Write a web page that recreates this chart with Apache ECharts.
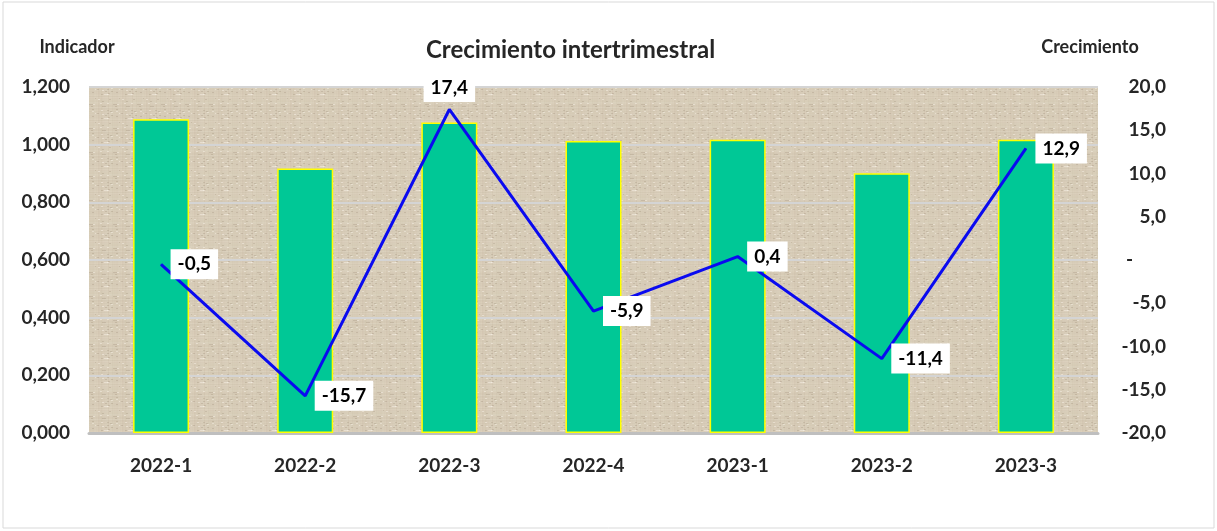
<!DOCTYPE html>
<html>
<head>
<meta charset="utf-8">
<script src="https://cdn.jsdelivr.net/npm/echarts@6/dist/echarts.min.js"></script>
<style>
  html, body { margin: 0; padding: 0; background: #fff; }
  #main { width: 1217px; height: 531px; }
</style>
</head>
<body>
<div id="main"></div>
<script>
// datos
var periodos = ['2022-1', '2022-2', '2022-3', '2022-4', '2023-1', '2023-2', '2023-3'];
var indicador = [1.088, 0.917, 1.077, 1.013, 1.017, 0.901, 1.017];
var crecimiento = [-0.5, -15.7, 17.4, -5.9, 0.4, -11.4, 12.9];

// textura tipo lino para el fondo del area de trazado (hash fijo, solo estilo)
function textura() {
	var n = 24;
	var c = document.createElement('canvas');
	c.width = n; c.height = n;
	var ctx = c.getContext('2d');
	ctx.fillStyle = '#e0d6c3';
	ctx.fillRect(0, 0, n, n);
	function h(a) { var s = Math.sin(a * 12.9898) * 43758.5453; return s - Math.floor(s); }
	for (var i = 0; i < n; i++) {
		ctx.fillStyle = 'rgba(150,130,100,' + (0.02 + 0.09 * h(i + 1)).toFixed(3) + ')';
		ctx.fillRect(0, i, n, 1);
		ctx.fillStyle = 'rgba(150,130,100,' + (0.02 + 0.09 * h(i + 50)).toFixed(3) + ')';
		ctx.fillRect(i, 0, 1, n);
	}
	for (var k = 0; k < 30; k++) {
		ctx.fillStyle = h(k + 100) > 0.5 ? 'rgba(250,245,235,0.45)' : 'rgba(120,105,85,0.18)';
		ctx.fillRect(Math.floor(h(k + 200) * n), Math.floor(h(k + 300) * n), 2, 1);
	}
	return c;
}

var fuente = 'Lato, "Noto Sans", sans-serif';
var myChart = echarts.init(document.getElementById('main'));

myChart.setOption({
	animation: false,
	textStyle: { fontFamily: fuente },
	title: {
		text: 'Crecimiento intertrimestral',
		left: 421,
		top: 33,
		textStyle: { fontFamily: fuente, fontSize: 24, fontWeight: 'bold', color: '#262626' }
	},
	graphic: [{
		type: 'rect',
		shape: { x: 3, y: 2, width: 1211, height: 526 },
		style: { fill: 'none', stroke: '#d9d9d9', lineWidth: 1 },
		silent: true,
		z: -10
	}],
	grid: {
		left: 89,
		right: 119,
		top: 87,
		bottom: 98,
		show: true,
		borderWidth: 0,
		backgroundColor: { image: textura(), repeat: 'repeat' }
	},
	xAxis: {
		type: 'category',
		data: periodos,
		axisLine: { show: true, lineStyle: { color: '#bfbfbf', width: 3 } },
		axisTick: { show: false },
		axisLabel: { color: '#262626', fontSize: 19, fontWeight: 'bold', margin: 23 }
	},
	yAxis: [
		{
			type: 'value',
			min: 0,
			max: 1.2,
			interval: 0.2,
			name: 'Indicador',
			nameLocation: 'end',
			nameGap: 31,
			nameTextStyle: { color: '#262626', fontSize: 18, fontWeight: 'bold', align: 'center', padding: [0, 24, 0, 0] },
			axisLine: { show: false },
			axisTick: { show: false },
			splitLine: { show: true, lineStyle: { color: '#d4d4d4', width: 2 } },
			axisLabel: {
				color: '#262626', fontSize: 19, fontWeight: 'bold', margin: 19,
				formatter: function (v) { return v.toFixed(3).replace('.', ','); }
			}
		},
		{
			type: 'value',
			min: -20,
			max: 20,
			interval: 5,
			name: 'Crecimiento',
			nameLocation: 'end',
			nameGap: 31,
			nameTextStyle: { color: '#262626', fontSize: 18, fontWeight: 'bold', align: 'center', padding: [0, 16, 0, 0] },
			axisLine: { show: false },
			axisTick: { show: false },
			splitLine: { show: false },
			axisLabel: {
				color: '#262626', fontSize: 19, fontWeight: 'bold', margin: 68, align: 'right',
				formatter: function (v) {
					if (v === 0) return '{z|-}';
					return v.toFixed(1).replace('.', ',');
				},
				rich: { z: { fontSize: 19, fontWeight: 'bold', color: '#262626', padding: [0, 33, 0, 0] } }
			}
		}
	],
	series: [
		{
			name: 'Indicador',
			type: 'bar',
			yAxisIndex: 0,
			barWidth: 56,
			itemStyle: { color: '#00c896', borderColor: '#ffff00', borderWidth: 1.5 },
			data: indicador
		},
		{
			name: 'Crecimiento',
			type: 'line',
			yAxisIndex: 1,
			symbol: 'circle',
			symbolSize: 1,
			showSymbol: true,
			itemStyle: { color: '#0a0af0' },
			lineStyle: { color: '#0a0af0', width: 3 },
			label: {
				show: true,
				position: 'right',
				distance: 9,
				backgroundColor: '#ffffff',
				padding: [6, 7, 5, 7],
				color: '#000',
				fontSize: 19,
				fontWeight: 'bold',
				formatter: function (p) { return p.value.toFixed(1).replace('.', ','); }
			},
			z: 5,
			data: crecimiento.map(function (v, i) {
				// el maximo lleva la etiqueta arriba
				return i === 2 ? { value: v, label: { position: 'top', distance: 7 } } : v;
			})
		}
	]
});
</script>
</body>
</html>
